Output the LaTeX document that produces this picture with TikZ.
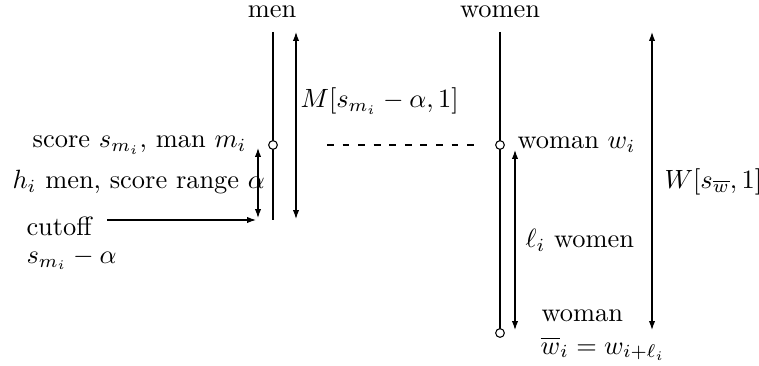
\documentclass[tikz,border=0pt]{standalone}
\usetikzlibrary{arrows.meta}
\begin{document}
\begin{tikzpicture}[x=0.3788pt,y=-0.3788pt,
  lbl/.style={inner sep=0pt},
  dot/.style={circle,draw,fill=white,inner sep=0pt,minimum size=3.3pt},
  tip/.tip={Latex[length=3.4pt,width=2.4pt]},
  dbl/.style={tip-tip},
  one/.style={-tip}]
\useasboundingbox (0,0) rectangle (759,366);
% headers
\node[lbl] (men) at (272,12) {men};
\node[lbl] (women) at (500,12) {women};
% men axis
\coordinate (mtop) at (273,32);
\coordinate (mbot) at (273,220);
\draw (mtop) -- (mbot);
\node[dot] (mi) at (273,145) {};
% M arrow
\coordinate (Mt) at (296,32);
\coordinate (Mb) at (296,219);
\draw[dbl] (Mt) -- (Mb);
\node[lbl,anchor=west] (Ml) at (300,101) {$M[s_{m_i}-\alpha,1]$};
% score label
\node[lbl,anchor=east] (sc) at (247,145) {score $s_{m_i}$, man $m_i$};
% h arrow
\coordinate (ht) at (258,148);
\coordinate (hb) at (258,218);
\draw[dbl] (ht) -- (hb);
\node[lbl,anchor=west] (hl) at (12,182) {$h_i$ men, score range $\alpha$};
% cutoff
\coordinate (cs) at (107,220);
\coordinate (ce) at (256,220);
\draw[one] (cs) -- (ce);
\node[lbl,anchor=west] (cut) at (26,226) {cutoff};
\node[lbl,anchor=west] (cutv) at (26,259) {$s_{m_i}-\alpha$};
% women axis
\coordinate (wtop) at (500,32);
\coordinate (wbot) at (500,330);
\draw (wtop) -- (wbot);
\node[dot] (wi) at (500,145) {};
\node[dot] (wb) at (500,333) {};
% dashed link
\coordinate (ds) at (327,145);
\coordinate (de) at (481,145);
\draw[dash pattern=on 2.6pt off 3.3pt] (ds) -- (de);
\node[lbl,anchor=west] (wil) at (517,145) {woman $w_i$};
% l arrow
\coordinate (lt) at (515,150);
\coordinate (lb) at (515,330);
\draw[dbl] (lt) -- (lb);
\node[lbl,anchor=west] (ll) at (525,240) {$\ell_i$ women};
% W arrow
\coordinate (Wt) at (652,32);
\coordinate (Wb) at (652,330);
\draw[dbl] (Wt) -- (Wb);
\node[lbl,anchor=west] (Wl) at (664,182) {$W[s_{\overline{w}},1]$};
% bottom labels
\node[lbl,anchor=west] (wm) at (541,316) {woman};
\node[lbl,anchor=west] (wbl) at (540,349) {$\overline{w}_i = w_{i+\ell_i}$};
\end{tikzpicture}
\end{document}
